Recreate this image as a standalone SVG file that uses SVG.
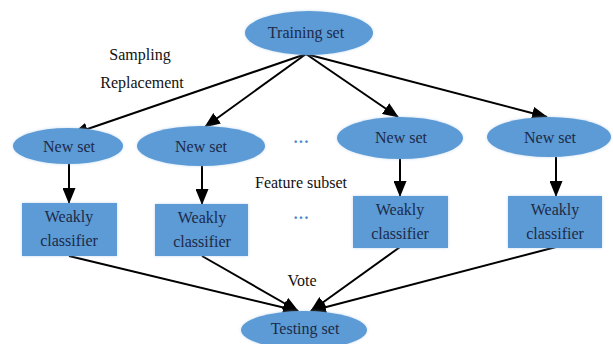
<svg xmlns="http://www.w3.org/2000/svg" width="613" height="344" viewBox="0 0 613 344">
<defs>
<marker id="ah" markerWidth="16" markerHeight="13" refX="15" refY="6.5" orient="auto" markerUnits="userSpaceOnUse">
<path d="M0,0 L16,6.5 L0,13 Z" fill="#000"/>
</marker>
<filter id="glow" x="-20%" y="-30%" width="140%" height="160%">
<feGaussianBlur in="SourceAlpha" stdDeviation="1.5" result="b"/>
<feFlood flood-color="#9fc2e6" flood-opacity="0.6"/>
<feComposite in2="b" operator="in" result="s"/>
<feMerge><feMergeNode in="s"/><feMergeNode in="SourceGraphic"/></feMerge>
</filter>
</defs>
<style>
.node{fill:#5b9bd5;filter:url(#glow)}
.t{font-size:16px;fill:#1c2a48;text-anchor:middle}
.l{font-size:16px;fill:#111;text-anchor:middle}
.dots{font-size:16px;fill:#4a86c8;text-anchor:middle;font-weight:bold}
.c{stroke:#000;stroke-width:2;fill:none;marker-end:url(#ah)}
</style>
<rect width="613" height="344" fill="#fff"/>
<g id="connectors">
<line class="c" x1="306" y1="54" x2="73" y2="134"/>
<line class="c" x1="306" y1="54" x2="205" y2="127"/>
<line class="c" x1="306" y1="54" x2="398" y2="117"/>
<line class="c" x1="306" y1="54" x2="547" y2="117"/>
<line class="c" x1="69" y1="164" x2="69" y2="203"/>
<line class="c" x1="202" y1="166" x2="202" y2="204"/>
<line class="c" x1="400" y1="159" x2="400" y2="196"/>
<line class="c" x1="556" y1="157" x2="556" y2="196"/>
<line class="c" x1="69" y1="256" x2="298" y2="311"/>
<line class="c" x1="202" y1="256" x2="298" y2="311"/>
<line class="c" x1="400" y1="247" x2="311" y2="311"/>
<line class="c" x1="556" y1="247" x2="311" y2="311"/>
</g>
<g font-family="'Liberation Serif', 'DejaVu Serif', serif">
<g id="training">
<ellipse class="node" cx="309" cy="33" rx="64" ry="22"/>
<text class="t" x="306" y="38">Training set</text>
</g>
<g id="newset1">
<ellipse class="node" cx="68" cy="146" rx="55" ry="18"/>
<text class="t" x="69" y="152">New set</text>
</g>
<g id="newset2">
<ellipse class="node" cx="201" cy="146" rx="64" ry="20"/>
<text class="t" x="201" y="152">New set</text>
</g>
<g id="newset3">
<ellipse class="node" cx="400" cy="138" rx="63" ry="21"/>
<text class="t" x="401" y="143">New set</text>
</g>
<g id="newset4">
<ellipse class="node" cx="549" cy="137" rx="62" ry="20"/>
<text class="t" x="550" y="143">New set</text>
</g>
<g id="weak1">
<rect class="node" x="22" y="203" width="95" height="53"/>
<text class="t" x="69" y="222">Weakly</text>
<text class="t" x="69" y="246">classifier</text>
</g>
<g id="weak2">
<rect class="node" x="155" y="204" width="93" height="52"/>
<text class="t" x="202" y="223">Weakly</text>
<text class="t" x="202" y="247">classifier</text>
</g>
<g id="weak3">
<rect class="node" x="353" y="196" width="95" height="52"/>
<text class="t" x="400" y="215">Weakly</text>
<text class="t" x="400" y="239">classifier</text>
</g>
<g id="weak4">
<rect class="node" x="508" y="196" width="94" height="52"/>
<text class="t" x="555" y="215">Weakly</text>
<text class="t" x="555" y="239">classifier</text>
</g>
<g id="testing">
<ellipse class="node" cx="304" cy="330" rx="63" ry="19"/>
<text class="t" x="305" y="334">Testing set</text>
</g>
<g id="labels">
<text class="l" x="140" y="60">Sampling</text>
<text class="l" x="142" y="88">Replacement</text>
<text class="l" x="301" y="188">Feature subset</text>
<text class="l" x="302" y="286">Vote</text>
<text class="dots" x="301" y="147">···</text>
<text class="dots" x="301" y="223">···</text>
</g>
</g>
</svg>
